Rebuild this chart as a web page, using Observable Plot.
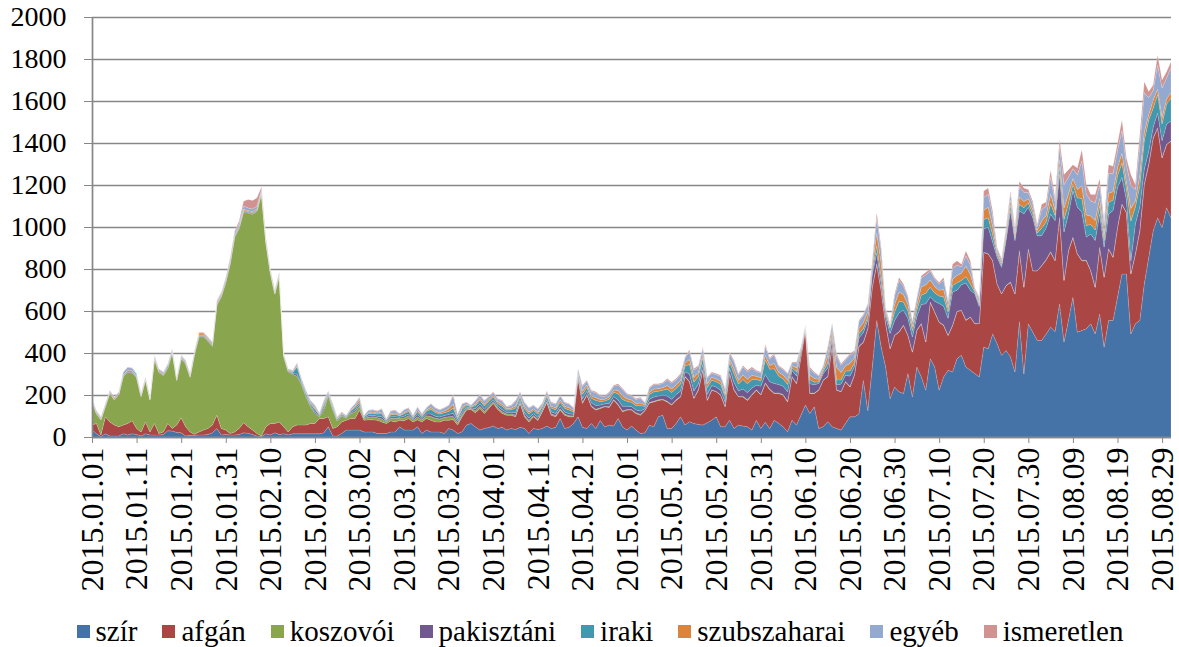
<!DOCTYPE html>
<html>
<head>
<meta charset="utf-8">
<script src="https://cdn.jsdelivr.net/npm/d3@7"></script>
<script src="https://cdn.jsdelivr.net/npm/@observablehq/plot@0.6"></script>
<style>
  body { margin: 0; background: #fff; font-family: "Liberation Serif", "Times New Roman", Times, Tinos, "DejaVu Serif", "Noto Serif", serif; }
  #chart svg { display: block; }
  #chart svg text { font-family: "Liberation Serif", "Times New Roman", Times, Tinos, "DejaVu Serif", "Noto Serif", serif !important; }
  #chart svg g[aria-label="y-axis tick"], #chart svg g[aria-label="x-axis tick"] { stroke: #878787; }
  #legend { display: flex; justify-content: center; align-items: center; gap: 25px; height: 52px; font-size: 29px; color: #000; padding-left: 21px; }
  #legend .item { display: flex; align-items: center; }
  #legend .sw { width: 13px; height: 13px; margin-right: 6px; display: inline-block; }
</style>
</head>
<body>
<div id="chart"></div>
<div id="legend"></div>
<script>
const seriesNames = ["szír", "afgán", "koszovói", "pakisztáni", "iraki", "szubszaharai", "egyéb", "ismeretlen"];
const seriesColors = ["#4572A7", "#AA4643", "#89A54E", "#71588F", "#4198AF", "#DB843D", "#93A9CF", "#D19392"];
const tickLabels = ["2015.01.01","2015.01.11","2015.01.21","2015.01.31","2015.02.10","2015.02.20","2015.03.02","2015.03.12","2015.03.22","2015.04.01","2015.04.11","2015.04.21","2015.05.01","2015.05.11","2015.05.21","2015.05.31","2015.06.10","2015.06.20","2015.06.30","2015.07.10","2015.07.20","2015.07.30","2015.08.09","2015.08.19","2015.08.29"];
const yTicks = [0,200,400,600,800,1000,1200,1400,1600,1800,2000];

const szir = [35,15,2,15,5,5,5,15,10,15, 12,5,15,10,10,10,12,30,28,22, 20,5,8,8,10,10,12,20,40,10, 12,10,10,12,20,18,12,5,2,15, 10,20,12,
15,10,15,15,15,15,15,15,15,20, 49,5,5,17,33,33,33,33,24,24, 24,17,17,17,24,24,49,33,33,33, 49,17,33,24,24,24,17,41,33,17,
25,57,64,48,33,41,45,52,41,46, 33,41,36,46,41,17,41,36,41,52, 41,46,88,41,46,64,96,46,41,64, 41,79,48,57,52,88,48,33,52,33, 17,20,56,
49,96,104,41,41,64,96,57,73,64, 60,57,68,80,96,49,49,80,41,57, 52,49,33,80,41,70,40,
80,65,49,25,80,57,104,152,112,144, 41,49,73,49,41,33,65,96,96,110, 270,125,
333,555,428,333,183,238,215,207,302,191, 333,286,223,373,333,223,286,318,
310,373,389,333,318,302,286,428,420,491, 444,389,412,381,310,550,300,539,500,460, 460,491,523,502,634,452,555,665,499,507, 515,539,491,586,428,555,555,665,776,776, 491,539,555,728,855,981,1044,997,1092,1044];

const afgan = [22,49,8,81,67,52,44,42,54,62, 29,19,57,14,54,7,12,34,13,35, 72,44,16,5,14,23,29,37,64,31, 21,7,14,29,48,31,21,12,3,34, 54,44,60,
34,14,34,42,42,42,49,49,73,68, 47,36,44,55,47,55,55,95,56,58, 58,63,55,47,53,48,31,44,55,39, 33,55,55,56,48,48,63,39,50,40,
71,71,67,67,103,71,91,108,90,66, 71,63,60,114,55,55,55,43,79,111, 63,50,40,63,50,32,182,114,158,80, 87,57,96,84,123,64,72,95,76,79, 87,105,106,
118,78,73,126,111,110,95,229,189,119, 163,261,106,143,119,150,95,222,182,134, 139,125,166,143,159,185,185,
127,142,150,142,206,197,277,355,95,63, 182,221,213,379,182,182,197,142,198,320, 180,390,
379,268,269,206,237,245,284,324,181,213, 174,253,229,268,261,323,245,165,
220,224,213,222,252,237,254,450,451,348, 284,292,308,355,371,336,412,355,291,331, 355,352,357,337,410,292,331,284,372,332, 324,252,221,316,332,340,300,332,331,292, 285,331,426,474,442,442,427,332,300,364];

const koszovoi = [111,46,71,49,136,119,151,230,244,228, 241,168,199,152,305,290,268,263,359,211, 279,298,260,381,453,444,415,375,523,626, 702,808,927,952,1005,1017,1028,1057,1155,875, 716,616,692,
333,286,250,232,191,134,80,48,8,40, 103,87,27,28,10,23,32,20,8,12, 14,12,14,8,12,16,10,14,13,8, 14,10,13,18,17,14,13,17,15,10,
10,8,5,10,10,10,9,8,8,8, 6,6,8,7,8,7,6,6,5,6, 6,6,6,5,5,4,3,4,4,4, 4,3,3,3,3,4,4,3,3,3, 3,2,3,
3,3,3,3,3,3,3,3,3,3, 3,3,3,2,2,2,2,2,3,2, 3,3,3,2,2,3,3,
3,3,3,3,2,2,2,1,2,2, 2,2,2,2,2,2,2,2,2,2, 2,2,
2,3,2,2,2,2,2,2,2,2, 2,2,2,2,2,2,2,2,
2,2,2,2,2,1,1,2,2,2, 1,1,1,2,1,2,2,2,1,1, 2,2,2,2,2,3,2,2,2,3, 3,2,2,2,2,2,2,2,2,2, 2,2,3,3,3,2,2,2,2,2];

const pakisztani = [2,2,2,2,2,2,2,3,3,3, 2,2,2,2,3,3,3,3,3,3, 3,3,3,3,3,3,3,3,3,3, 3,3,3,3,3,3,3,3,3,3, 3,3,3,
3,3,3,10,6,6,6,8,4,10, 4,6,4,4,3,5,8,8,3,7, 7,7,10,3,7,8,4,8,8,5, 10,6,8,12,10,9,9,10,15,8,
10,6,3,9,11,10,9,9,8,10, 7,8,12,9,11,11,9,9,7,9, 10,10,12,10,10,8,12,18,15,16, 18,13,11,15,15,20,22,16,14,14, 17,8,15,
20,18,19,25,25,24,25,22,35,33, 27,25,26,20,20,22,20,24,33,26, 35,34,31,22,40,40,35,
45,40,40,45,30,35,18,8,45,40, 30,30,40,35,23,35,30,50,40,40, 45,40,
60,50,31,31,71,70,90,70,80,70, 65,90,180,25,50,88,90,80,
159,100,121,176,127,142,80,111,126,87, 127,126,214,340,253,190,348,198,253,166, 142,150,180,189,206,229,174,222,221,229, 110,174,222,158,142,165,221,189,127,60, 60,142,111,70,60,50,70,80,95,95];

const iraki = [2,2,2,2,2,2,2,4,5,5, 4,2,2,2,3,3,3,8,4,3, 3,3,3,3,3,3,3,3,3,3, 4,4,4,4,4,4,4,4,3,3, 3,3,3,
3,3,5,35,10,10,9,12,5,14, 6,10,6,6,4,8,12,10,5,10, 10,10,15,5,10,12,7,12,12,7, 14,9,14,22,18,14,14,15,25,12,
16,9,5,15,18,16,15,14,13,17, 11,12,22,14,20,20,16,16,12,16, 18,18,20,18,18,12,8,22,18,21, 24,17,14,21,20,30,33,23,20,20, 25,11,22,
25,23,24,33,32,30,33,27,46,42, 35,32,33,26,26,28,26,30,42,33, 45,43,40,28,25,70,60,
70,40,35,35,12,20,8,4,20,12, 8,10,25,20,24,20,20,25,15,20, 20,15,
15,35,32,16,25,40,55,40,35,30, 30,45,50,45,40,35,45,30,
30,35,20,30,30,8,10,45,45,35, 12,10,15,25,15,30,30,20,18,14, 35,30,50,25,35,60,50,30,45,65, 55,45,50,40,30,55,50,55,70,50, 190,80,100,135,150,90,88,80,95,110];

const szubszaharai = [3,3,3,3,3,6,3,3,3,3, 3,3,3,3,6,4,4,3,3,4, 4,4,4,4,8,8,5,5,5,5, 5,5,5,5,5,5,5,5,4,4, 3,3,3,
3,3,3,5,4,5,5,6,3,7, 3,5,3,3,2,4,6,12,2,5, 6,5,8,2,6,6,3,6,6,4, 7,5,5,8,7,7,8,12,18,6,
8,5,3,7,9,8,8,8,8,9, 6,7,10,8,10,9,8,8,6,8, 9,9,10,9,10,7,6,14,12,12, 13,10,8,11,11,16,17,12,11,11, 13,6,11,
13,12,12,17,17,16,17,15,23,22, 18,17,17,13,13,14,13,15,22,17, 22,21,20,14,15,22,18,
25,18,18,20,10,18,8,4,20,18, 12,12,30,25,60,35,25,35,25,25, 28,25,
20,60,66,16,8,35,45,35,30,20, 25,40,40,35,30,28,35,20,
30,35,35,50,45,8,10,45,50,40, 12,10,15,25,15,35,30,20,20,12, 35,30,45,25,35,55,45,28,40,60, 50,40,45,35,28,45,40,40,45,35, 60,30,50,40,25,40,25,30,25,25];

const egyeb = [8,6,6,6,6,3,6,11,12,12, 9,6,6,6,6,6,6,6,8,6, 6,6,6,6,6,6,7,7,8,8, 10,12,12,13,15,13,13,13,10,10, 8,8,8,
4,4,6,10,8,9,9,11,5,13, 6,9,5,5,4,6,11,10,5,10, 10,9,14,5,11,11,6,11,11,6, 14,8,10,16,14,12,14,15,40,14,
16,9,4,15,16,15,14,13,12,15, 10,12,22,14,18,18,14,15,10,15, 16,17,19,17,17,11,16,23,18,21, 23,16,13,20,18,26,29,20,19,19, 22,11,19,
21,19,20,27,27,25,27,23,38,35, 29,27,27,21,21,24,21,25,34,27, 37,35,33,24,23,42,30,
40,28,26,30,14,23,9,6,32,25, 16,14,37,26,55,35,28,40,30,32, 33,30,
25,70,60,10,10,40,55,40,35,24, 30,42,48,42,36,30,45,28,
50,50,30,50,45,9,16,60,62,50, 15,15,22,28,22,50,44,30,28,20, 55,44,80,42,63,110,80,46,70,120, 100,72,85,65,46,95,85,80,110,80, 110,55,140,190,80,45,115,140,100,120];

const ismeretlen = [2,2,2,2,2,2,2,2,2,2, 2,2,2,2,2,2,2,2,2,2, 2,2,2,2,2,2,2,2,3,3, 3,6,6,10,23,40,40,40,10,5, 3,3,3,
2,2,2,3,2,2,2,3,2,3, 2,2,2,2,1,2,3,3,1,2, 2,2,3,1,2,3,2,3,3,2, 3,2,3,4,3,3,3,3,8,3,
4,2,1,4,4,4,3,3,3,4, 3,3,5,3,4,4,3,3,3,3, 4,4,4,4,4,3,3,5,4,5, 5,4,3,4,4,6,6,5,4,4, 5,2,5,
5,5,5,6,6,6,6,5,9,8, 6,6,6,5,5,5,5,6,8,6, 8,8,7,5,5,8,6,
7,5,5,5,3,5,2,2,7,6, 3,3,8,6,10,7,6,7,6,6, 7,7,
5,27,14,4,3,11,14,10,8,5, 6,10,12,10,8,7,12,6,
22,20,13,23,20,4,8,30,30,23, 7,7,10,15,10,25,20,14,12,9, 24,20,33,17,30,49,36,20,32,52, 45,31,39,28,20,40,36,34,49,34, 52,23,54,52,30,26,47,39,30,27];

const seriesValues = [szir, afgan, koszovoi, pakisztani, iraki, szubszaharai, egyeb, ismeretlen];

const rows = [];
seriesNames.forEach((name, k) => {
  seriesValues[k].forEach((v, i) => rows.push({day: i, series: name, value: v}));
});
const nDays = szir.length;
const xTicks = tickLabels.map((_, j) => j * 10);

const serifStack = "'Liberation Serif', 'Times New Roman', Times, Tinos, 'DejaVu Serif', 'Noto Serif', serif";
const gridColor = "#878787";
const chart = Plot.plot({
  width: 1179,
  height: 605,
  marginLeft: 92,
  marginRight: 8,
  marginTop: 17,
  marginBottom: 168,
  style: {fontFamily: serifStack, color: "#000", background: "#fff"},
  x: {domain: [0, nDays - 1]},
  y: {domain: [0, 2000]},
  color: {domain: seriesNames, range: seriesColors},
  marks: [
    Plot.gridY(yTicks, {stroke: gridColor, strokeOpacity: 1, strokeWidth: 1.7}),
    Plot.areaY(rows, {x: "day", y: "value", fill: "series", z: "series", order: seriesNames, stroke: "#ffffff", strokeOpacity: 0.25, strokeWidth: 0.6}),
    Plot.ruleX([0], {stroke: gridColor, strokeWidth: 1.7}),
    Plot.ruleY([0], {stroke: gridColor, strokeWidth: 1.7}),
    Plot.axisY({ticks: yTicks, tickSize: 8, tickPadding: 18, fontSize: 28, fontFamily: serifStack, label: null, tickFormat: d => String(d)}),
    Plot.axisX({ticks: xTicks, tickFormat: i => tickLabels[i / 10], tickRotate: -90, tickSize: 6, tickPadding: 4, fontSize: 32, fontFamily: serifStack, label: null})
  ]
});
document.getElementById("chart").appendChild(chart);

const legend = document.getElementById("legend");
seriesNames.forEach((name, k) => {
  const item = document.createElement("span");
  item.className = "item";
  const sw = document.createElement("span");
  sw.className = "sw";
  sw.style.background = seriesColors[k];
  item.appendChild(sw);
  item.appendChild(document.createTextNode(name));
  legend.appendChild(item);
});
</script>
</body>
</html>
